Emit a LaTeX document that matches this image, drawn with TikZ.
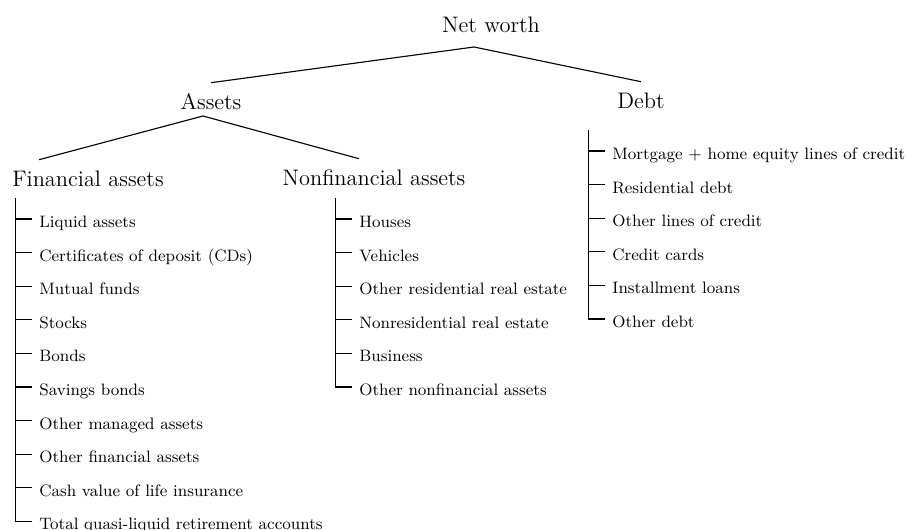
\documentclass[tikz,border=0pt]{standalone}
\usepackage{tikz}
\usetikzlibrary{matrix}

\begin{document}
\begin{tikzpicture}[x=0.535pt, y=-0.535pt,
    head/.style={font=\large, anchor=base, inner xsep=2pt, inner ysep=4pt,
      text height=10.4pt, text depth=0pt},
    leaves/.style={matrix of nodes, anchor=north west, inner sep=0pt,
      row sep=8.98pt,
      nodes={font=\fontsize{8.85pt}{10pt}\selectfont, anchor=west,
        inner sep=0pt, text height=9pt, text depth=0pt}},
    twig/.style={semithick}]
    \useasboundingbox (0,0) rectangle (908,530);

    % top levels
    \node[head] (nw)     at (491,33)  {Net worth};
    \node[head] (as)     at (211,110) {Assets};
    \node[head] (debt)   at (641,109) {Debt};
    \node[head] (fin)    at (88,187)  {Financial assets};
    \node[head] (nonfin) at (374,186) {Nonfinancial assets};

    % the lists
    \matrix (finlist) [leaves] at (39,210.2)
    {
      Liquid assets \\
      Certificates of deposit (CDs) \\
      Mutual funds \\
      Stocks \\
      Bonds \\
      Savings bonds \\
      Other managed assets \\
      Other financial assets \\
      Cash value of life insurance \\
      Total quasi-liquid retirement accounts \\
    };
    \matrix (nonfinlist) [leaves] at (359,210.2)
    {
      Houses \\
      Vehicles \\
      Other residential real estate \\
      Nonresidential real estate \\
      Business \\
      Other nonfinancial assets \\
    };
    \matrix (debtlist) [leaves] at (612,142.2)
    {
      Mortgage $+$ home equity lines of credit \\
      Residential debt \\
      Other lines of credit \\
      Credit cards \\
      Installment loans \\
      Other debt \\
    };

    % branches
    \coordinate (nw-fork) at (474,47);
    \coordinate (as-fork) at (203,116);
    \draw[twig] (as.north) -- (nw-fork) -- (debt.north);
    \draw[twig] (fin.north -| finlist-1-1.west) -- (as-fork)
      -- (nonfin.north -| nonfinlist-1-1.west);

    % bars and ticks
    \draw[twig] ([shift={(-12.6pt,11.2pt)}]finlist-1-1.west)
      |- ([xshift=-4pt]finlist-10-1.west);
    \foreach \i in {1,...,9}
      \draw[twig] ([xshift=-12.6pt]finlist-\i-1.west)
        -- ([xshift=-4pt]finlist-\i-1.west);
    \draw[twig] ([shift={(-12.6pt,11.2pt)}]nonfinlist-1-1.west)
      |- ([xshift=-4pt]nonfinlist-6-1.west);
    \foreach \i in {1,...,5}
      \draw[twig] ([xshift=-12.6pt]nonfinlist-\i-1.west)
        -- ([xshift=-4pt]nonfinlist-\i-1.west);
    \draw[twig] ([shift={(-12.6pt,11.2pt)}]debtlist-1-1.west)
      |- ([xshift=-4pt]debtlist-6-1.west);
    \foreach \i in {1,...,5}
      \draw[twig] ([xshift=-12.6pt]debtlist-\i-1.west)
        -- ([xshift=-4pt]debtlist-\i-1.west);
\end{tikzpicture}
\end{document}
